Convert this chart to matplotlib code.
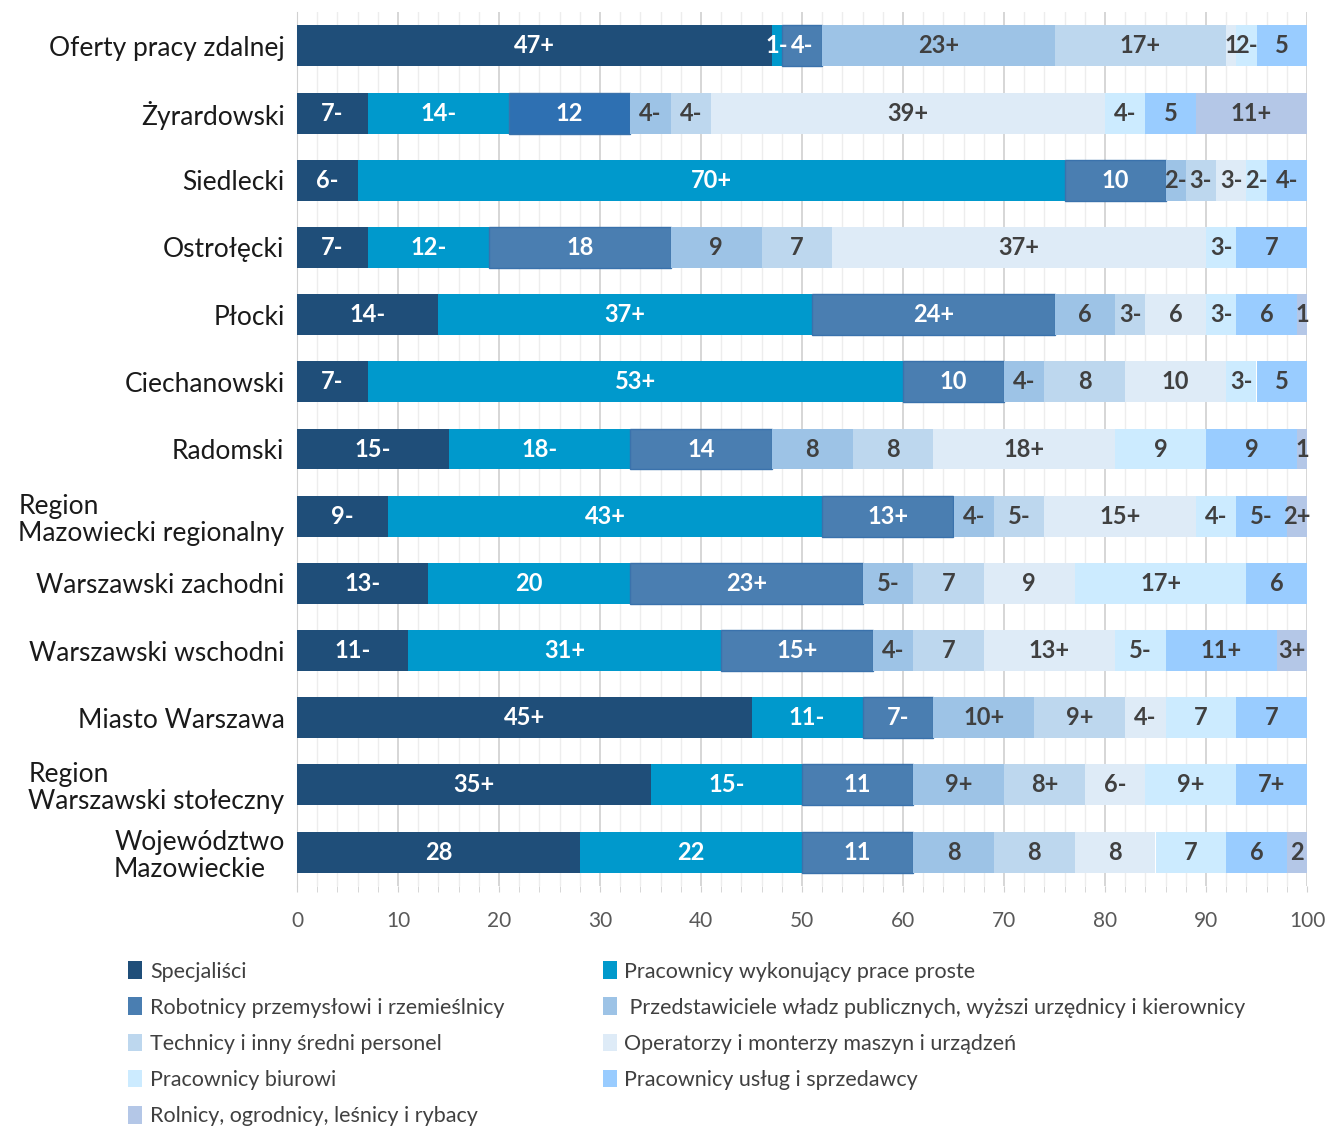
import numpy as np
import matplotlib.pyplot as plt
from matplotlib.patches import Patch
from matplotlib.ticker import MultipleLocator

plt.rcParams['font.family'] = ['Lato', 'DejaVu Sans']

# regions, top to bottom
regions = ['Oferty pracy zdalnej', 'Żyrardowski', 'Siedlecki', 'Ostrołęcki', 'Płocki',
           'Ciechanowski', 'Radomski', 'Region\nMazowiecki regionalny', 'Warszawski zachodni',
           'Warszawski wschodni', 'Miasto Warszawa', 'Region\nWarszawski stołeczny',
           'Województwo\nMazowieckie']

series = ['Specjaliści', 'Pracownicy wykonujący prace proste',
          'Robotnicy przemysłowi i rzemieślnicy',
          ' Przedstawiciele władz publicznych, wyższi urzędnicy i kierownicy',
          'Technicy i inny średni personel', 'Operatorzy i monterzy maszyn i urządzeń',
          'Pracownicy biurowi', 'Pracownicy usług i sprzedawcy',
          'Rolnicy, ogrodnicy, leśnicy i rybacy']

colors = ['#1F4E79', '#0099CC', '#4A7EB1', '#9DC3E6', '#BDD7EE',
          '#DEEBF7', '#CCEBFF', '#99CCFF', '#B4C7E7']

# shares (%) per occupation group, same order as regions
specjalisci = [47, 7, 6, 7, 14, 7, 15, 9, 13, 11, 45, 35, 28]
prace_proste = [1, 14, 70, 12, 37, 53, 18, 43, 20, 31, 11, 15, 22]
robotnicy = [4, 12, 10, 18, 24, 10, 14, 13, 23, 15, 7, 11, 11]
przedstawiciele = [23, 4, 2, 9, 6, 4, 8, 4, 5, 4, 10, 9, 8]
technicy = [17, 4, 3, 7, 3, 8, 8, 5, 7, 7, 9, 8, 8]
operatorzy = [1, 39, 3, 37, 6, 10, 18, 15, 9, 13, 4, 6, 8]
biurowi = [2, 4, 2, 3, 3, 3, 9, 4, 17, 5, 7, 9, 7]
uslugi = [5, 5, 4, 7, 6, 5, 9, 5, 6, 11, 7, 7, 6]
rolnicy = [0, 11, 0, 0, 1, 0, 1, 2, 0, 3, 0, 0, 2]

# significance marks shown after the value
m_specjalisci = ['+', '-', '-', '-', '-', '-', '-', '-', '-', '-', '+', '+', '']
m_prace_proste = ['-', '-', '+', '-', '+', '+', '-', '+', '', '+', '-', '-', '']
m_robotnicy = ['-', '', '', '', '+', '', '', '+', '+', '+', '-', '', '']
m_przedstawiciele = ['+', '-', '-', '', '', '-', '', '-', '-', '-', '+', '+', '']
m_technicy = ['+', '-', '-', '', '-', '', '', '-', '', '', '+', '+', '']
m_operatorzy = ['', '+', '-', '+', '', '', '+', '+', '', '+', '-', '-', '']
m_biurowi = ['-', '-', '-', '-', '-', '-', '', '-', '+', '-', '', '+', '']
m_uslugi = ['', '', '-', '', '', '', '', '-', '', '+', '', '+', '']
m_rolnicy = ['', '+', '', '', '', '', '', '+', '', '+', '', '', '']

values = [specjalisci, prace_proste, robotnicy, przedstawiciele, technicy,
          operatorzy, biurowi, uslugi, rolnicy]
marks = [m_specjalisci, m_prace_proste, m_robotnicy, m_przedstawiciele, m_technicy,
         m_operatorzy, m_biurowi, m_uslugi, m_rolnicy]

fig = plt.figure(figsize=(13.28, 11.27), dpi=100)
ax = fig.add_axes([297 / 1328, 1 - 885.6 / 1127, 1010 / 1328, 873.2 / 1127])

y = np.arange(len(regions))
left = np.zeros(len(regions))
for i, (vals, mk) in enumerate(zip(values, marks)):
    vals = np.array(vals, dtype=float)
    bars = ax.barh(y, vals, left=left, height=0.61, color=colors[i], zorder=3,
                   edgecolor='#3A72AC' if i == 2 else 'none', linewidth=1)
    if i == 2:
        # Żyrardowski segment is drawn a bit more saturated in the original
        bars.patches[1].set_facecolor('#2E70B2')
    txtcol = 'white' if i < 3 else '#404040'
    for j, v in enumerate(vals):
        if v > 0:
            ax.text(left[j] + v / 2, y[j], f'{int(v)}{mk[j]}', ha='center', va='center',
                    color=txtcol, fontsize=17, fontweight='bold', zorder=4)
    left += vals

ax.set_xlim(0, 100)
ax.set_ylim(len(regions) - 0.5, -0.5)
ax.set_yticks(y)
ax.set_yticklabels(regions, fontsize=19, color='#1A1A1A', linespacing=1.1,
                   multialignment='left')
ax.tick_params(axis='y', length=0, pad=9)
ax.xaxis.set_major_locator(MultipleLocator(10))
ax.xaxis.set_minor_locator(MultipleLocator(2))
ax.tick_params(axis='x', which='both', length=4, color='#D0D0D0', labelsize=15,
               labelcolor='#595959', pad=14)
ax.grid(axis='x', which='major', color='#D0D0D0', lw=1.2, zorder=0)
ax.grid(axis='x', which='minor', color='#EDEDED', lw=1, zorder=0)
for s in ['top', 'right', 'bottom']:
    ax.spines[s].set_visible(False)
ax.spines['left'].set_color('#D0D0D0')

# legend filled row by row like the original, so reorder for column-major fill
order = [0, 2, 4, 6, 8, 1, 3, 5, 7]
handles = [Patch(facecolor=colors[k], label=series[k]) for k in order]
fig.legend(handles=handles, loc='upper left', bbox_to_anchor=(109 / 1328, 1 - 942 / 1127),
           ncol=2, frameon=False, fontsize=15.5, handlelength=0.65, handleheight=0.9,
           handletextpad=0.35, columnspacing=4.56, labelspacing=0.73,
           labelcolor='#404040')

fig.savefig('out.png', dpi=100)
